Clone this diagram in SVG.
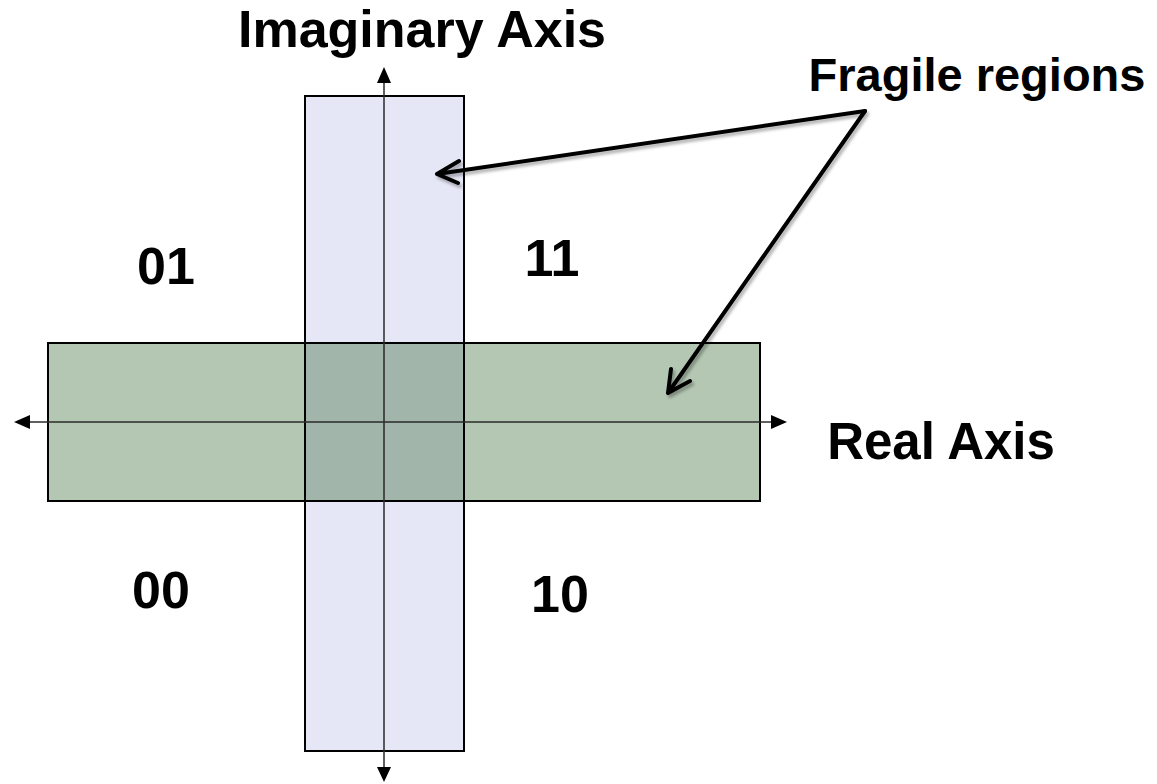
<svg xmlns="http://www.w3.org/2000/svg" width="1157" height="784" viewBox="0 0 1157 784">
<style>
.t{font-family:"Liberation Sans",Arial,sans-serif;font-weight:bold;fill:#000}
.box{stroke:#000;stroke-width:2;fill:none}
.axis{stroke:#2a2a2a;stroke-width:1.5;fill:none}
.call{stroke:#000;stroke-width:4;fill:none;stroke-linecap:round;stroke-linejoin:round}
</style>
<defs>
<filter id="sh" x="-10%" y="-10%" width="120%" height="130%">
<feDropShadow dx="2" dy="3" stdDeviation="1.5" flood-color="#000" flood-opacity="0.3"/>
</filter>
</defs>
<g id="imag-region">
<rect x="305" y="96" width="159" height="655" fill="#E6E7F6"/>
</g>
<g id="real-region">
<rect x="48" y="343" width="712" height="158" fill="#B3C7B3"/>
<rect x="305" y="343" width="159" height="158" fill="#A1B5AB"/>
</g>
<g id="outlines">
<rect class="box" x="305" y="96" width="159" height="655"/>
<rect class="box" x="48" y="343" width="712" height="158"/>
</g>
<g id="connectors">
<line class="axis" x1="384" y1="82" x2="384" y2="768"/>
<polygon points="384,67 377,83 391,83" fill="#000"/>
<polygon points="384,782 377,767 391,767" fill="#000"/>
<line class="axis" x1="29" y1="422" x2="772" y2="422"/>
<polygon points="14,422 30,415 30,429" fill="#000"/>
<polygon points="787,422 771,415 771,429" fill="#000"/>
<g filter="url(#sh)">
<path class="call" d="M865,111 L437,174 M459,161 L437,174 L458,183"/>
<path class="call" d="M865,111 L668,393 M671,369 L668,393 L690,381"/>
</g>
</g>
<g id="labels">
<text class="t" x="422" y="47" font-size="52" text-anchor="middle">Imaginary Axis</text>
<text class="t" x="977" y="91" font-size="47" text-anchor="middle">Fragile regions</text>
<text class="t" x="941" y="459" font-size="51" text-anchor="middle">Real Axis</text>
<text class="t" x="166" y="284" font-size="52" text-anchor="middle">01</text>
<text class="t" x="552" y="276" font-size="52" text-anchor="middle">11</text>
<text class="t" x="161" y="608" font-size="52" text-anchor="middle">00</text>
<text class="t" x="560" y="612" font-size="52" text-anchor="middle">10</text>
</g>
</svg>
